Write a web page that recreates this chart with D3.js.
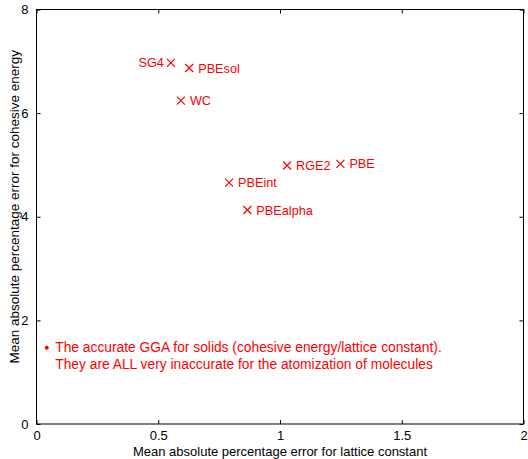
<!DOCTYPE html>
<html>
<head>
<meta charset="utf-8">
<script src="https://cdn.jsdelivr.net/npm/d3@7"></script>
<style>
  body { margin: 0; background: #fff; }
  text { font-family: "Liberation Sans", Arial, sans-serif; }
</style>
</head>
<body>
<div id="chart"></div>
<script>
// config
var WD = 528, HT = 459
var margin = { left: 36.5, right: 4.5, top: 9.5, bottom: 35 }
var width = WD - margin.left - margin.right
var height = HT - margin.top - margin.bottom

// data
var names = ["SG4", "PBEsol", "WC", "RGE2", "PBE", "PBEint", "PBEalpha"]
var latticeErr = [0.552, 0.627, 0.593, 1.029, 1.248, 0.791, 0.866]
var cohesiveErr = [6.97, 6.87, 6.24, 4.99, 5.02, 4.66, 4.13]
var labelSide = ["left", "right", "right", "right", "right", "right", "right"]
var xTicks = [0, 0.5, 1, 1.5, 2]
var yTicks = [0, 2, 4, 6, 8]
var noteLines = ["The accurate GGA for solids (cohesive energy/lattice constant).",
                 "They are ALL very inaccurate for the atomization of molecules"]
var notePos = [0.042, 1.47]

var red = "#ff0000"

var x = d3.scaleLinear().domain([0, 2]).range([0, width])
var y = d3.scaleLinear().domain([0, 8]).range([height, 0])

var svg = d3.select("#chart")
  .append("svg")
    .attr("width", WD)
    .attr("height", HT)
  .append("g")
    .attr("transform", "translate(" + margin.left + "," + margin.top + ")")

// axes (ticks inside, matlab style)
function styleAxis(g) {
  g.select(".domain").remove()
  g.selectAll("line").attr("stroke", "#000")
  g.selectAll("text").attr("font-size", 13).attr("fill", "#000")
}

svg.append("g")
  .attr("transform", "translate(0," + height + ")")
  .call(d3.axisBottom(x).tickValues(xTicks).tickFormat(d3.format("")).tickSizeInner(-4).tickPadding(7))
  .call(styleAxis)

svg.append("g")
  .call(d3.axisLeft(y).tickValues(yTicks).tickSizeInner(-4).tickPadding(8))
  .call(styleAxis)

svg.append("g")
  .call(d3.axisTop(x).tickValues(xTicks).tickSizeInner(-4).tickFormat(""))
  .call(styleAxis)

svg.append("g")
  .attr("transform", "translate(" + width + ",0)")
  .call(d3.axisRight(y).tickValues(yTicks).tickSizeInner(-4).tickFormat(""))
  .call(styleAxis)

svg.append("rect")
  .attr("width", width)
  .attr("height", height)
  .attr("fill", "none")
  .attr("stroke", "#000")
  .attr("stroke-width", 1)

// axis labels
svg.append("text")
  .attr("x", width / 2)
  .attr("y", height + 32)
  .attr("text-anchor", "middle")
  .attr("font-size", 13)
  .text("Mean absolute percentage error for lattice constant")

svg.append("text")
  .attr("transform", "translate(" + (-18) + "," + (height / 2 - 10) + ") rotate(-90)")
  .attr("text-anchor", "middle")
  .attr("font-size", 13.5)
  .text("Mean absolute percentage error for cohesive energy")

// markers
var pts = names.map(function(n, i) {
  return { name: n, x: latticeErr[i], y: cohesiveErr[i], side: labelSide[i] }
})

var m = svg.selectAll(".pt")
  .data(pts)
  .enter().append("g")
    .attr("class", "pt")
    .attr("transform", function(d) { return "translate(" + x(d.x) + "," + y(d.y) + ")" })

m.append("path")
  .attr("d", "M-4,-4L4,4M-4,4L4,-4")
  .attr("stroke", red)
  .attr("stroke-width", 1.2)
  .attr("fill", "none")

m.append("text")
  .attr("x", function(d) { return d.side == "left" ? -7 : 9 })
  .attr("y", 4.5)
  .attr("text-anchor", function(d) { return d.side == "left" ? "end" : "start" })
  .attr("font-size", 12.7)
  .attr("fill", red)
  .text(function(d) { return d.name })

// note
svg.append("circle")
  .attr("cx", x(notePos[0]))
  .attr("cy", y(notePos[1]))
  .attr("r", 2)
  .attr("fill", red)

svg.selectAll(".note")
  .data(noteLines)
  .enter().append("text")
    .attr("class", "note")
    .attr("x", x(notePos[0]) + 8.5)
    .attr("y", function(d, i) { return y(notePos[1]) + 4.5 + i * 17 })
    .attr("font-size", 13.8)
    .attr("fill", red)
    .text(function(d) { return d })
</script>
</body>
</html>
